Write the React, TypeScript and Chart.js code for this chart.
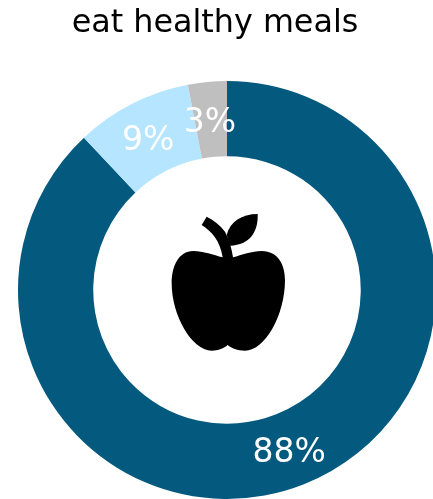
import React, { useEffect, useRef } from "react";
import { Chart, registerables } from "chart.js";

Chart.register(...registerables);

const titleText = "eat healthy meals";
const categories = ["yes", "sometimes", "no"];
const shares = [88, 9, 3];
const sliceColors = ["#04597f", "#b5e5ff", "#bfbfbf"];

// Apple glyph, outlined on a 3x grid whose origin sits at the ring centre's offset (231, 300).
const appleBody =
  "M218 202C190 195 160 183 130 183C85 183 65 230 65 280C65 375 125 482 185 482C205 482 222 475 233 465C245 475 262 482 285 482C345 482 405 375 405 270C405 225 385 183 335 183C305 183 275 195 249 202C245 175 238 150 225 125C210 105 190 90 170 80L155 105C185 125 210 150 218 202Z";
const appleLeaf = "M230 135C240 95 275 72 323 72C325 125 300 165 240 167Z";

const ringDecorations = {
  id: "ringDecorations",
  afterDatasetsDraw(chart: any) {
    const { ctx } = chart;
    const arcs = chart.getDatasetMeta(0).data;
    ctx.save();
    ctx.textAlign = "center";
    ctx.textBaseline = "middle";

    // The heading sits slightly left of the ring's centre.
    ctx.fillStyle = "#000000";
    ctx.font = '31.8px "DejaVu Sans"';
    ctx.fillText(titleText, 215, 24);

    ctx.fillStyle = "#ffffff";
    ctx.font = '33px "DejaVu Sans"';
    arcs.forEach((arc: any, i: number) => {
      const p = arc.tooltipPosition();
      ctx.fillText(`${shares[i]}%`, p.x - 1, p.y + 4);
    });

    const { x, y } = arcs[0];
    ctx.translate(x, y);
    ctx.scale(1 / 3, 1 / 3);
    ctx.translate(-231, -300);
    ctx.fillStyle = "#000000";
    ctx.fill(new Path2D(appleBody));
    ctx.fill(new Path2D(appleLeaf));
    ctx.restore();
  },
};

export default function App() {
  const canvasRef = useRef<HTMLCanvasElement>(null);

  useEffect(() => {
    const chart = new Chart(canvasRef.current!, {
      type: "doughnut",
      data: {
        labels: categories,
        datasets: [{ data: shares, backgroundColor: sliceColors, borderWidth: 0 }],
      },
      options: {
        animation: false,
        responsive: false,
        cutout: "64%",
        layout: { padding: { left: 18, right: 18, top: 81, bottom: 41 } },
        plugins: {
          legend: { display: false },
          tooltip: { enabled: false },
        },
      },
      plugins: [ringDecorations],
    });
    return () => chart.destroy();
  }, []);

  return (
    <div style={{ position: "fixed", left: 0, top: 0, width: 433, height: 499, overflow: "hidden", background: "#ffffff" }}>
      <canvas ref={canvasRef} width={454} height={540} style={{ display: "block" }} />
    </div>
  );
}
